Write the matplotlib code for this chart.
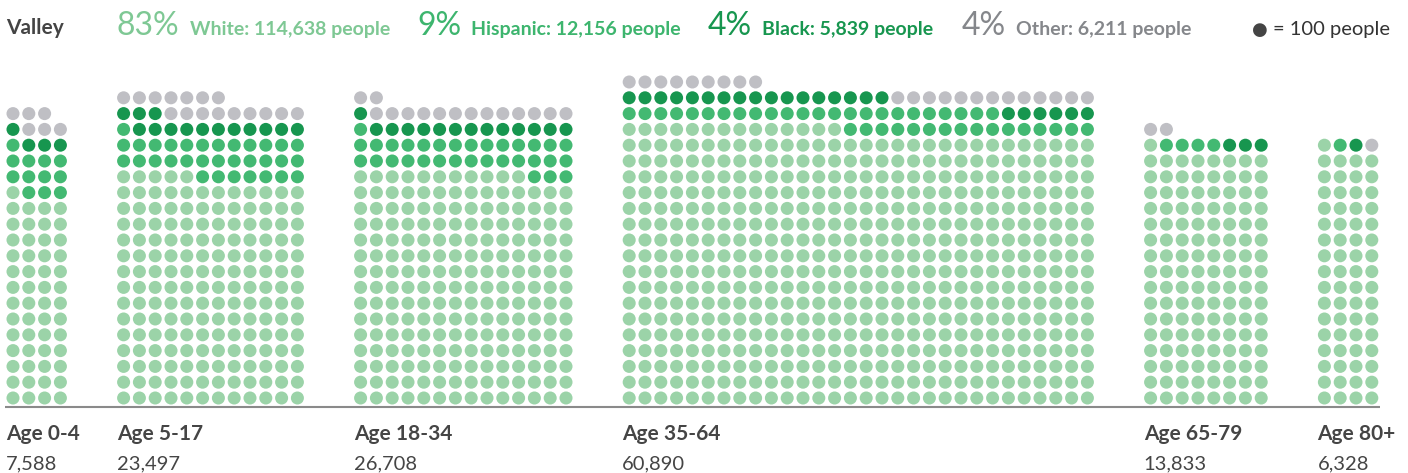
import numpy as np
import matplotlib.pyplot as plt

plt.rcParams['font.family'] = ['Lato', 'DejaVu Sans']

# age groups, one dot = 100 people
age_labels = ["Age 0-4", "Age 5-17", "Age 18-34", "Age 35-64", "Age 65-79", "Age 80+"]
age_totals = [7588, 23497, 26708, 60890, 13833, 6328]
group_cols = [4, 12, 14, 30, 8, 4]

# dots per race in each age group
white_dots = [53, 173, 207, 524, 129, 65]
hispanic_dots = [12, 32, 32, 40, 4, 1]
black_dots = [4, 14, 14, 23, 3, 1]
other_dots = [6, 16, 15, 22, 2, 1]

race_names = ["White", "Hispanic", "Black", "Other"]
race_people = [114638, 12156, 5839, 6211]
race_pct = [83, 9, 4, 4]

dot_colors = ["#9bd3a8", "#43b972", "#17964f", "#bfbfc4"]
text_colors = ["#7ec894", "#3db56e", "#17964f", "#85878b"]

W, H = 1408, 473
fig = plt.figure(figsize=(W / 100, H / 100), dpi=100)
ax = fig.add_axes([0, 0, 1, 1])

step = 15.8          # px between dot centres
x0, y0 = 13, 398     # centre of bottom-left dot
ax.set_xlim(-x0 / step, (W - x0) / step)
ax.set_ylim(-(H - y0) / step, y0 / step)
ax.axis('off')

gap = 3
start = 0
xs, ys, cs = [], [], []
for g in range(len(age_labels)):
    ncol = group_cols[g]
    counts = [white_dots[g], hispanic_dots[g], black_dots[g], other_dots[g]]
    k = 0
    for r, n in enumerate(counts):
        for _ in range(n):
            xs.append(start + k % ncol)
            ys.append(k // ncol)
            cs.append(dot_colors[r])
            k += 1
    # labels under the group
    ax.text(start - 0.44, -2.65, age_labels[g], fontsize=15, fontweight='bold',
            color='#454545', ha='left', va='baseline')
    ax.text(start - 0.44, -4.5, f"{age_totals[g]:,}", fontsize=14.5,
            color='#454545', ha='left', va='baseline')
    start += ncol + gap

ax.scatter(xs, ys, s=88, c=cs, linewidths=0)

# baseline
ax.plot([-0.5, start - gap - 0.45], [-0.57, -0.57], color='#8a8a8a', lw=1.5,
        solid_capstyle='butt')


def px(x, y):
    return x / W, 1 - y / H


fig.text(*px(6, 34), "Valley", fontsize=15, fontweight='bold', color='#444444',
         va='baseline')

pct_x = [117, 417, 708, 962]
for i in range(4):
    t = fig.text(*px(pct_x[i], 35), f"{race_pct[i]}%", fontsize=23,
                 color=text_colors[i], va='baseline')
    fig.canvas.draw()
    bb = t.get_window_extent()
    fig.text((bb.x1 + 10) / W, 1 - 35 / H,
             f"{race_names[i]}: {race_people[i]:,} people", fontsize=14,
             fontweight='bold', color=text_colors[i], va='baseline')

fig.text(*px(1252, 35), "\u25cf", fontsize=13, color='#444444', va='baseline',
         family='DejaVu Sans')
fig.text(*px(1273, 35), "= 100 people", fontsize=14.5, color='#333333',
         va='baseline')

fig.savefig('out.png', dpi=100)
